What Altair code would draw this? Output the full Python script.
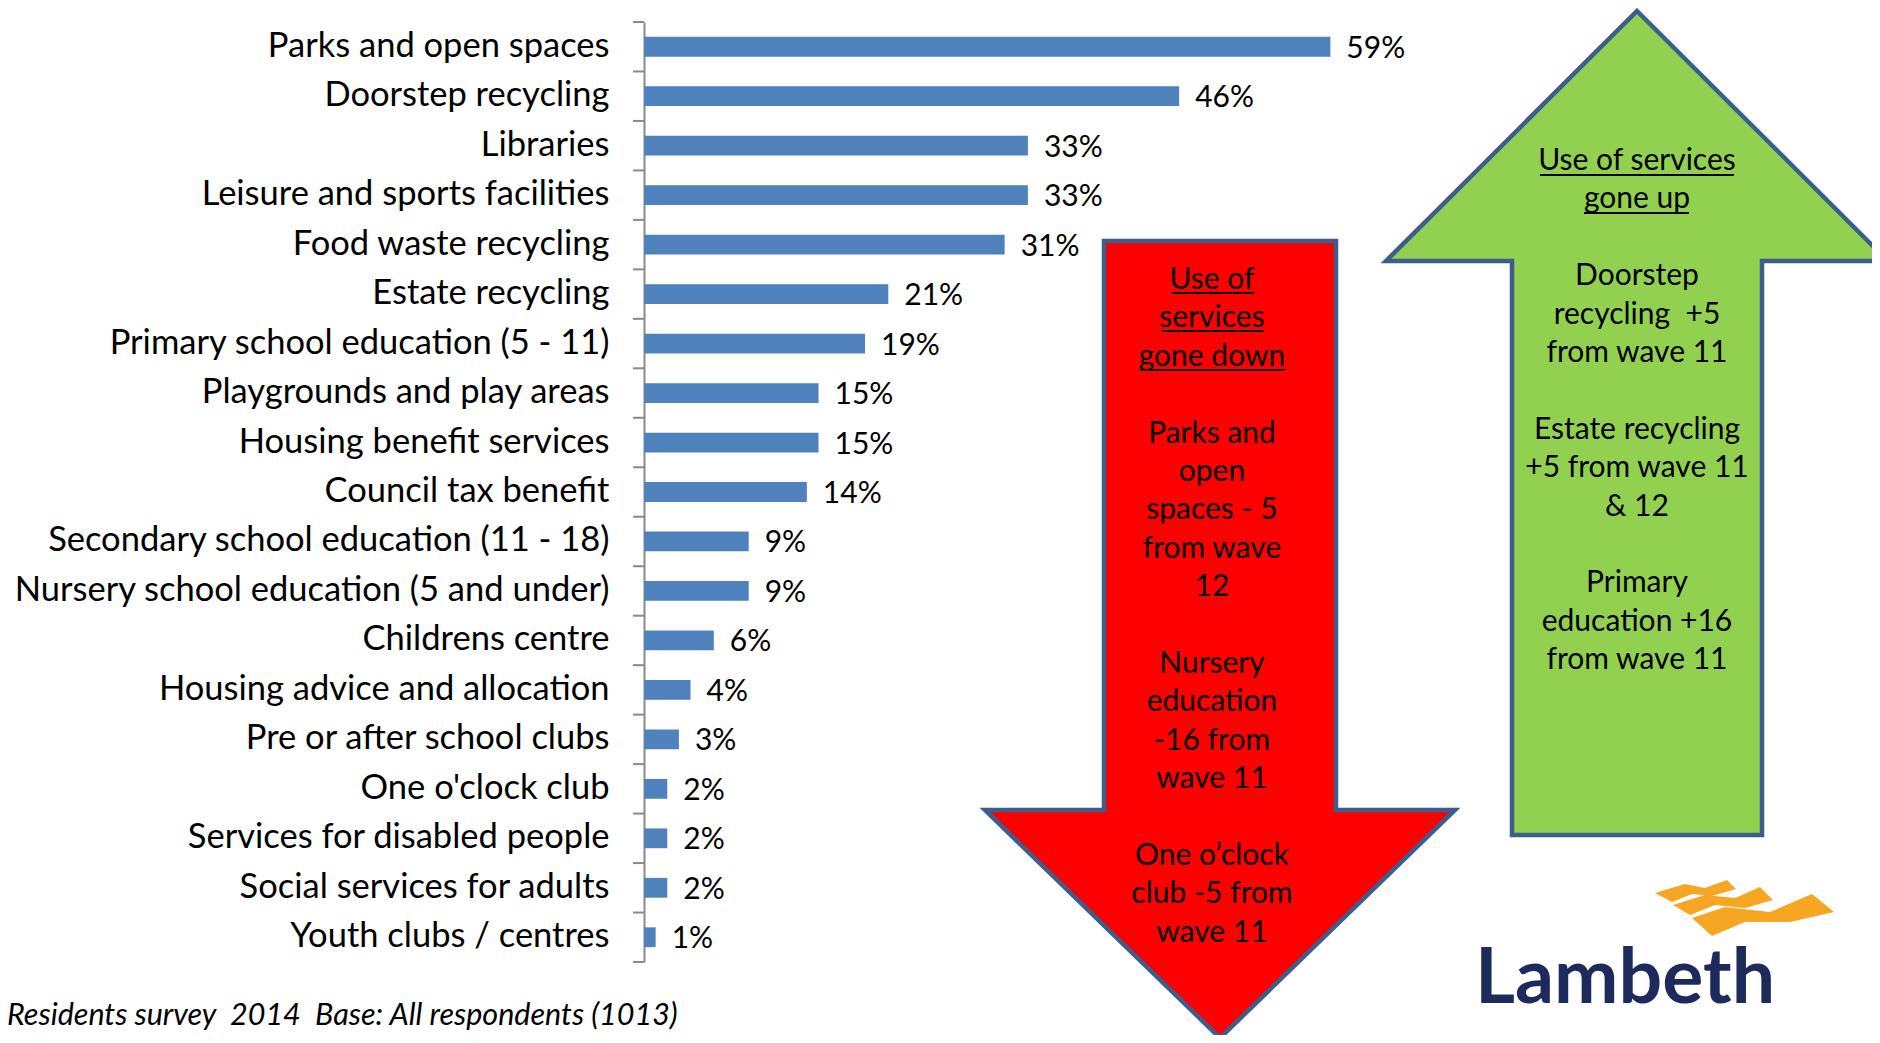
import altair as alt
import pandas as pd

FONT = "Lato"
NB = "\u00a0"

# ---------------- data ----------------
services = [
    "Parks and open spaces", "Doorstep recycling", "Libraries",
    "Leisure and sports facilities", "Food waste recycling", "Estate recycling",
    "Primary school education (5 - 11)", "Playgrounds and play areas",
    "Housing benefit services", "Council tax benefit",
    "Secondary school education (11 - 18)", "Nursery school education (5 and under)",
    "Childrens centre", "Housing advice and allocation", "Pre or after school clubs",
    "One o'clock club", "Services for disabled people", "Social services for adults",
    "Youth clubs / centres",
]
usage = [59, 46, 33, 33, 31, 21, 19, 15, 15, 14, 9, 9, 6, 4, 3, 2, 2, 2, 1]
usage_labels = [f"{v}%" for v in usage]

down_lines = ["Use of", "services", "gone down", "", "Parks and", "open", "spaces - 5",
              "from wave", "12", "", "Nursery", "education", "-16 from", "wave 11", "",
              "One o\u2019clock", "club -5 from", "wave 11"]
up_lines = ["Use of services", "gone up", "", "Doorstep", "recycling" + NB + " +5", "from wave 11", "",
            "Estate recycling", "+5 from wave 11", "& 12", "", "Primary", "education +16",
            "from wave 11"]
note_text = "Residents survey " + NB + "2014 " + NB + "Base: All respondents (1013)"
logo_text = "Lambeth"

# ---------------- layout (page pixels) ----------------
OX, OY = 644, 22          # plot origin on page
W, H = 698, 940
PAD_L, PAD_T = OX - 8, OY - 8
PAD_R = 1864 - PAD_L - W
PAD_B = 1027 - PAD_T - H
STEP = H / len(services)
GRAY = "#8a8a8a"
BAR = "#4F81BD"
OUTLINE = "#3B5E8C"


def px(x):
    return x - OX


def py(y):
    return y - OY


def shape_path(polys, cx, cy, half):
    parts = []
    for pts in polys:
        parts.append("M" + " L".join(f"{(x - cx) / half:.4f},{(y - cy) / half:.4f}" for x, y in pts) + " Z")
    return " ".join(parts)


one = pd.DataFrame({"_": [0]})

df = pd.DataFrame({"service": services, "pct": usage, "label": usage_labels})

yenc = alt.Y(
    "service:N", sort=services, title=None,
    scale=alt.Scale(paddingInner=0.6, paddingOuter=0.3),
    axis=alt.Axis(labelFont=FONT, labelFontSize=34.5, labelColor="black", labelPadding=35,
                  ticks=False, tickSize=0, domainColor=GRAY, domainWidth=2, labelLimit=900),
)
xenc = alt.X("pct:Q", scale=alt.Scale(domain=[0, 60]), axis=None)

base = alt.Chart(df)
bars = base.mark_bar(color=BAR).encode(x=xenc, y=yenc)
vals = base.mark_text(align="left", baseline="middle", dx=16, dy=2, font=FONT,
                      fontSize=30, color="black").encode(x=xenc, y=yenc, text="label:N")
ticks = base.mark_rule(color=GRAY, strokeWidth=2, yOffset=-0.3 * STEP).encode(
    y=alt.Y("service:N", sort=services, bandPosition=0), x=alt.value(-11), x2=alt.value(0))
tick_end = alt.Chart(one).mark_rule(color=GRAY, strokeWidth=2).encode(
    y=alt.value(H), x=alt.value(-11), x2=alt.value(0))

layers = [bars, vals, ticks, tick_end]

# red down arrow
red_pts = [(1104, 241), (1336, 241), (1336, 810), (1455, 810), (1220, 1038), (985, 810), (1104, 810)]
red_cx, red_cy, red_h = 1220, 640, 401
layers.append(alt.Chart(one).mark_point(
    shape=shape_path([red_pts], red_cx, red_cy, red_h), size=(2 * red_h) ** 2, filled=True,
    fill="#FF0000", stroke=OUTLINE, strokeWidth=4.5, opacity=1, fillOpacity=1, strokeJoin="miter"
).encode(x=alt.value(px(red_cx)), y=alt.value(py(red_cy))))

# green up arrow
grn_pts = [(1637, 11), (1888, 261), (1762, 261), (1762, 835), (1512, 835), (1512, 261), (1386, 261)]
grn_cx, grn_cy, grn_h = 1637, 423, 413
layers.append(alt.Chart(one).mark_point(
    shape=shape_path([grn_pts], grn_cx, grn_cy, grn_h), size=(2 * grn_h) ** 2, filled=True,
    fill="#92D050", stroke=OUTLINE, strokeWidth=4.5, opacity=1, fillOpacity=1, strokeJoin="miter"
).encode(x=alt.value(px(grn_cx)), y=alt.value(py(grn_cy))))

# arrow texts
LH = 38.4
TFS = 30


def text_layer(x, y, s, **kw):
    return alt.Chart(one).mark_text(**kw).encode(x=alt.value(x), y=alt.value(y), text=alt.value(s))


for i, s in enumerate(down_lines):
    if s:
        layers.append(text_layer(px(1212), py(289 + i * LH), s, align="center", baseline="alphabetic",
                                 font=FONT, fontSize=TFS, color="black"))
for i, s in enumerate(up_lines):
    if s:
        layers.append(text_layer(px(1637), py(170 + i * LH), s, align="center", baseline="alphabetic",
                                 font=FONT, fontSize=TFS, color="black"))

# underlines
underlines = [(1172, 1254, 293), (1162, 1264, 331), (1140, 1285, 370),
              (1540, 1734, 175), (1584, 1689, 213)]
for x1, x2, yy in underlines:
    layers.append(alt.Chart(one).mark_rule(color="black", strokeWidth=2).encode(
        x=alt.value(px(x1)), x2=alt.value(px(x2)), y=alt.value(py(yy))))

# footnote
layers.append(text_layer(px(7), py(1025), note_text, align="left", baseline="alphabetic",
                         font=FONT, fontSize=30.5, fontStyle="italic", color="black"))

# logo
layers.append(text_layer(px(1475), py(1003), logo_text, align="left", baseline="alphabetic",
                         font=FONT, fontSize=77, fontWeight="bold", color="#1C2A5C"))
sw = [
    [(1655, 893), (1685, 884), (1705, 888), (1727, 880), (1736, 889), (1712, 896), (1692, 894), (1672, 902)],
    [(1673, 905), (1705, 895), (1735, 898), (1760, 887), (1773, 900), (1745, 908), (1715, 905), (1690, 915)],
    [(1692, 918), (1725, 907), (1770, 912), (1812, 894), (1834, 912), (1790, 922), (1745, 922), (1712, 936)],
]
layers.append(alt.Chart(one).mark_point(
    shape=shape_path(sw, 1745, 908, 95), size=190 ** 2, filled=True, fill="#F6A623",
    strokeWidth=0, opacity=1, fillOpacity=1
).encode(x=alt.value(px(1745)), y=alt.value(py(908))))

chart = alt.layer(*layers).properties(
    width=W, height=H,
    autosize=alt.AutoSizeParams(type="none"),
    padding={"left": PAD_L, "top": PAD_T, "right": PAD_R, "bottom": PAD_B},
    background="white",
).configure_view(stroke=None)

chart.save("out.html", embed_options={"renderer": "svg", "actions": False})
